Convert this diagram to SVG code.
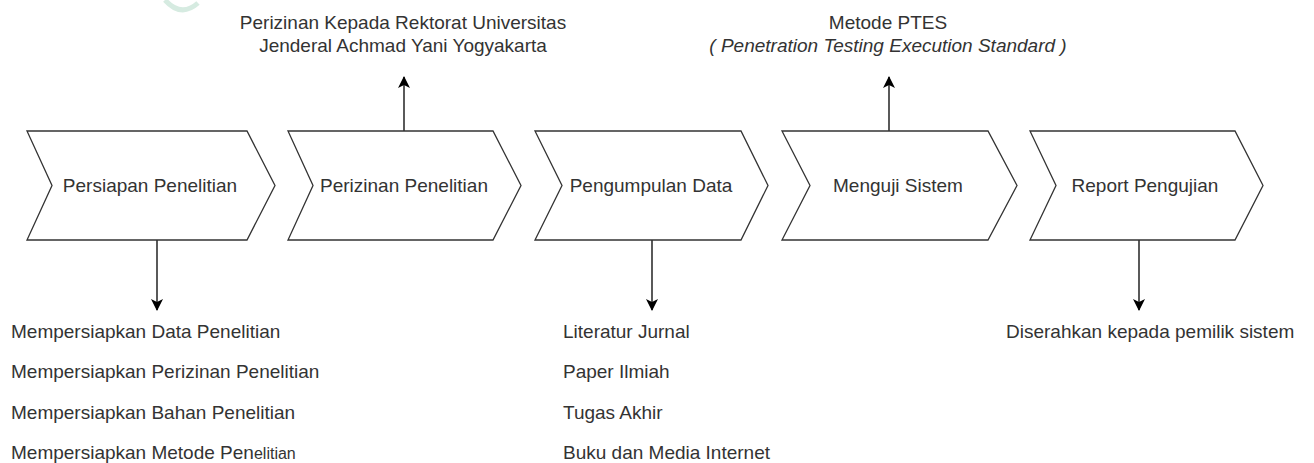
<svg xmlns="http://www.w3.org/2000/svg" width="1314" height="463" viewBox="0 0 1314 463">
<style>
.chev{fill:#fff;stroke:#333;stroke-width:1.3}
.lbl{font-family:"Liberation Sans",Arial,sans-serif;font-size:19px;fill:#333}
.mid{text-anchor:middle}
.conn{stroke:#000;stroke-width:1.3;fill:none}
</style>
<defs>
<marker id="ah" markerWidth="12" markerHeight="14" refX="11" refY="6" orient="auto" markerUnits="userSpaceOnUse" viewBox="0 0 12 12">
<path d="M0,0 L12,6 L0,12 L3,6 Z" fill="#000"/>
</marker>
</defs>
<rect width="1314" height="463" fill="#fff"/>
<path d="M165,0 Q181,18 198,3" fill="none" stroke="#d6ebe1" stroke-width="5"/>
<g id="connectors">
<line class="conn" x1="157" y1="240" x2="157" y2="310" marker-end="url(#ah)"/>
<line class="conn" x1="404" y1="131" x2="404" y2="77" marker-end="url(#ah)"/>
<line class="conn" x1="652" y1="240" x2="652" y2="310" marker-end="url(#ah)"/>
<line class="conn" x1="889" y1="131" x2="889" y2="77" marker-end="url(#ah)"/>
<line class="conn" x1="1139" y1="240" x2="1139" y2="310" marker-end="url(#ah)"/>
</g>
<g id="step1">
<path class="chev" d="M27,131 L247,131 L275,185.5 L247,240 L27,240 L52,185.5 Z"/>
<text class="lbl mid" x="150" y="192">Persiapan Penelitian</text>
</g>
<g id="step2">
<path class="chev" d="M288,131 L493,131 L521,185.5 L493,240 L288,240 L313,185.5 Z"/>
<text class="lbl mid" x="404" y="192">Perizinan Penelitian</text>
</g>
<g id="step3">
<path class="chev" d="M535,131 L741,131 L768,185.5 L741,240 L535,240 L562,185.5 Z"/>
<text class="lbl mid" x="651" y="192">Pengumpulan Data</text>
</g>
<g id="step4">
<path class="chev" d="M782,131 L988,131 L1017,185.5 L988,240 L782,240 L810,185.5 Z"/>
<text class="lbl mid" x="898" y="192">Menguji Sistem</text>
</g>
<g id="step5">
<path class="chev" d="M1030,131 L1235,131 L1263,185.5 L1235,240 L1030,240 L1056,185.5 Z"/>
<text class="lbl mid" x="1145" y="192">Report Pengujian</text>
</g>
<g id="note-perizinan">
<text class="lbl mid" x="403" y="29">Perizinan Kepada Rektorat Universitas</text>
<text class="lbl mid" x="403" y="52">Jenderal Achmad Yani Yogyakarta</text>
</g>
<g id="note-ptes">
<text class="lbl mid" x="888" y="29">Metode PTES</text>
<text class="lbl mid" x="888" y="52" font-style="italic">( Penetration Testing Execution Standard )</text>
</g>
<g id="list-persiapan">
<text class="lbl" x="11" y="338">Mempersiapkan Data Penelitian</text>
<text class="lbl" x="11" y="378">Mempersiapkan Perizinan Penelitian</text>
<text class="lbl" x="11" y="419">Mempersiapkan Bahan Penelitian</text>
<text class="lbl" x="11" y="459">Mempersiapkan Metode Pen<tspan font-size="16px">elitian</tspan></text>
</g>
<g id="list-data">
<text class="lbl" x="563" y="338">Literatur Jurnal</text>
<text class="lbl" x="563" y="378">Paper Ilmiah</text>
<text class="lbl" x="563" y="419">Tugas Akhir</text>
<text class="lbl" x="563" y="459">Buku dan Media Internet</text>
</g>
<g id="list-report">
<text class="lbl" x="1006" y="338">Diserahkan kepada pemilik sistem</text>
</g>
</svg>
